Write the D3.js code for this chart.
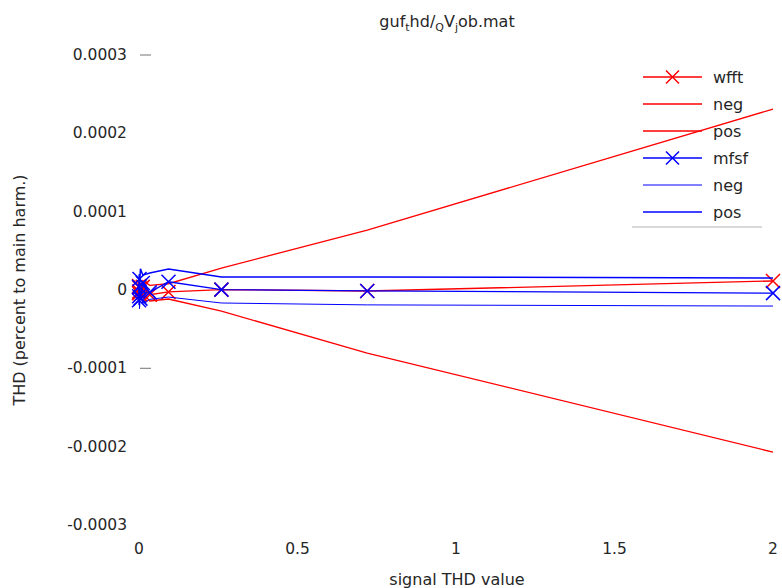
<!DOCTYPE html>
<html>
<head>
<meta charset="utf-8">
<script src="https://cdn.jsdelivr.net/npm/d3@7"></script>
<style>
  body { margin: 0; background: #fff; }
  svg text { font-family: "DejaVu Sans", sans-serif; fill: #262626; }
</style>
</head>
<body>
<div id="chart"></div>
<script>
// signal THD values (x) - log spaced sweep
var xVals = [2, 0.72, 0.26, 0.093, 0.034, 0.012, 0.0045, 0.0016, 0.0006, 0.0002, 0.00007];

// wfft result and its error band
var wfft    = [0.0000115, -0.0000013, 0.0000005, -0.0000025, -0.000006, 0.000004, -0.000006, 0.000003, -0.000002, 0.000005, -0.000004];
var wfftNeg = [-0.000207, -0.0000805, -0.000027, -0.0000115, -0.000014, -0.000004, -0.000012, -0.000002, -0.000009, 0.000003, -0.000007];
var wfftPos = [0.000231, 0.0000765, 0.000028, 0.000008, 0.000006, 0.000012, 0.000002, 0.000009, -0.000003, 0.000008, 0.000001];

// mfsf result and its error band
var mfsf    = [-0.000004, -0.0000012, 0.0000005, 0.0000105, -0.000003, 0.000009, -0.000011, 0.000014, -0.000008, 0.000004, -0.000013];
var mfsfNeg = [-0.0000205, -0.000019, -0.0000166, -0.000009, -0.000012, -0.000017, -0.000005, -0.000024, 0.000002, -0.000019, -0.000008];
var mfsfPos = [0.0000153, 0.0000166, 0.0000166, 0.0000268, 0.0000217, 0.000019, 0.000027, 0.000004, 0.000020, -0.000003, 0.000012];

var xTicks = [0, 0.5, 1, 1.5, 2];
var yTicks = [0.0003, 0.0002, 0.0001, 0, -0.0001, -0.0002, -0.0003];
var yTickMarks = [0.0003, -0.0001];

var series = [
  {name: 'wfft', vals: wfft,    color: '#ff0000', width: 1.3, marker: true},
  {name: 'neg',  vals: wfftNeg, color: '#ff0000', width: 1.3, marker: false},
  {name: 'pos',  vals: wfftPos, color: '#ff0000', width: 1.3, marker: false},
  {name: 'mfsf', vals: mfsf,    color: '#0000ff', width: 1.3, marker: true},
  {name: 'neg',  vals: mfsfNeg, color: '#0000ff', width: 1.0, marker: false},
  {name: 'pos',  vals: mfsfPos, color: '#0000ff', width: 1.5, marker: false}
];

var width = 782, height = 588;
var svg = d3.select('#chart').append('svg')
  .attr('width', width)
  .attr('height', height);

var x = d3.scaleLinear().domain([0, 2]).range([139, 773]);
var y = d3.scaleLinear().domain([-0.0003, 0.0003]).range([525, 55]);

// title with subscripts
var title = svg.append('text')
  .attr('x', 447).attr('y', 27)
  .attr('text-anchor', 'middle')
  .style('font-size', '16px');
title.append('tspan').text('guf');
title.append('tspan').attr('dy', 4).style('font-size', '11px').text('t');
title.append('tspan').attr('dy', -4).text('hd/');
title.append('tspan').attr('dy', 4).style('font-size', '11px').text('Q');
title.append('tspan').attr('dy', -4).text('V');
title.append('tspan').attr('dy', 4).style('font-size', '11px').text('j');
title.append('tspan').attr('dy', -4).text('ob.mat');

// y tick labels and marks
svg.selectAll('.ylab')
  .data(yTicks)
  .enter()
  .append('text')
  .attr('x', 127)
  .attr('y', function(d){ return y(d) + 5 })
  .attr('text-anchor', 'end')
  .style('font-size', '15.5px')
  .text(function(d){ return d === 0 ? '0' : d3.format('.4f')(d).replace('−', '-') });

svg.selectAll('.ymark')
  .data(yTickMarks)
  .enter()
  .append('line')
  .attr('x1', x(0) + 1).attr('x2', x(0) + 12)
  .attr('y1', function(d){ return y(d) })
  .attr('y2', function(d){ return y(d) })
  .attr('stroke', '#8a8a8a')
  .attr('stroke-width', 1.2);

// x tick labels
svg.selectAll('.xlab')
  .data(xTicks)
  .enter()
  .append('text')
  .attr('x', function(d){ return x(d) })
  .attr('y', 554)
  .attr('text-anchor', 'middle')
  .style('font-size', '15.5px')
  .text(function(d){ return d });

svg.append('text')
  .attr('x', 457).attr('y', 585)
  .attr('text-anchor', 'middle')
  .style('font-size', '16px')
  .text('signal THD value');

svg.append('text')
  .attr('transform', 'translate(25,290) rotate(-90)')
  .attr('text-anchor', 'middle')
  .style('font-size', '16px')
  .text('THD (percent to main harm.)');

// lines and markers
var line = d3.line()
  .x(function(d){ return x(d[0]) })
  .y(function(d){ return y(d[1]) });

var ms = 7;
series.forEach(function(s){
  var pts = xVals.map(function(xv, i){ return [xv, s.vals[i]] });
  svg.append('path')
    .datum(pts)
    .attr('d', line)
    .attr('fill', 'none')
    .attr('stroke', s.color)
    .attr('stroke-width', s.width);
  if(s.marker){
    svg.selectAll(null)
      .data(pts)
      .enter()
      .append('path')
      .attr('d', function(d){
        var cx = x(d[0]), cy = y(d[1]);
        return 'M' + (cx - ms) + ',' + (cy - ms) + 'L' + (cx + ms) + ',' + (cy + ms) +
               'M' + (cx - ms) + ',' + (cy + ms) + 'L' + (cx + ms) + ',' + (cy - ms);
      })
      .attr('stroke', s.color)
      .attr('stroke-width', 1.5)
      .attr('fill', 'none');
  }
});

// legend
var legend = svg.append('g');
var rows = legend.selectAll('g')
  .data(series)
  .enter()
  .append('g')
  .attr('transform', function(d, i){ return 'translate(0,' + (77 + i * 27) + ')' });

rows.append('line')
  .attr('x1', 643).attr('x2', 702)
  .attr('y1', 0).attr('y2', 0)
  .attr('stroke', function(d){ return d.color })
  .attr('stroke-width', function(d){ return d.width });

rows.filter(function(d){ return d.marker })
  .append('path')
  .attr('d', 'M666,-6.5L679,6.5M666,6.5L679,-6.5')
  .attr('stroke', function(d){ return d.color })
  .attr('stroke-width', 1.5);

rows.append('text')
  .attr('x', 713).attr('y', 6)
  .style('font-size', '16px')
  .text(function(d){ return d.name });

legend.append('line')
  .attr('x1', 632).attr('x2', 762)
  .attr('y1', 227).attr('y2', 227)
  .attr('stroke', '#cccccc')
  .attr('stroke-width', 1.5);
</script>
</body>
</html>
